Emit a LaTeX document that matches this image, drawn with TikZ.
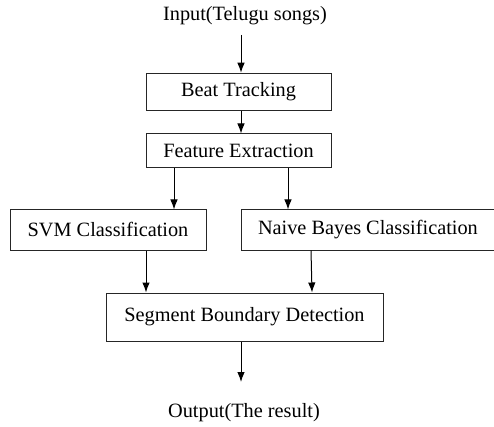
\documentclass[tikz,border=0pt]{standalone}
\usepackage{fontspec}
\setmainfont{Liberation Serif}
\usetikzlibrary{arrows.meta}
\begin{document}
\begin{tikzpicture}[x=1pt,y=-1pt,
  box/.style={draw=black!85,line width=1pt,rectangle,inner sep=0pt,font=\fontsize{20.3}{24}\selectfont},
  lbl/.style={inner sep=0pt,font=\fontsize{20.3}{24}\selectfont},
  arr/.style={draw=black,line width=1pt,-{Latex[length=10pt,width=7.5pt]}}]
\useasboundingbox (0,0) rectangle (494,427);
\node[lbl] (in) at (245,16) {Input(Telugu songs)};
\node[box,minimum width=185pt,minimum height=37pt] (beat) at (238.5,91.75) {Beat Tracking};
\node[box,minimum width=185pt,minimum height=34pt] (feat) at (238.5,151) {Feature Extraction};
\node[box,minimum width=196pt,minimum height=40pt] (svm) at (108,230) {SVM Classification};
\node[box,minimum width=255pt,minimum height=40pt,text width=255pt,align=flush left] (nb) at (368.5,230) {\hspace*{17pt}Naive Bayes Classification};
\node[box,minimum width=277pt,minimum height=48pt] (seg) at (244.5,317) {Segment Boundary Detection};
\node[lbl] (out) at (244,413) {Output(The result)};
\coordinate (inA) at (241,35);
\coordinate (outA) at (241,382);
\coordinate (x1) at (174,0);
\coordinate (x2) at (288,0);
\coordinate (x3) at (146,0);
\coordinate (x4) at (311,0);
\coordinate (x5) at (312,0);
\draw[arr] (inA) -- (inA |- beat.north);
\draw[arr] (beat.south -| inA) -- (feat.north -| inA);
\draw[arr] (feat.south -| x1) -- (svm.north -| x1);
\draw[arr] (feat.south -| x2) -- (nb.north -| x2);
\draw[arr] (svm.south -| x3) -- (seg.north -| x3);
\draw[arr] (nb.south -| x4) -- (seg.north -| x5);
\draw[arr] (seg.south -| outA) -- (outA);
\end{tikzpicture}
\end{document}
